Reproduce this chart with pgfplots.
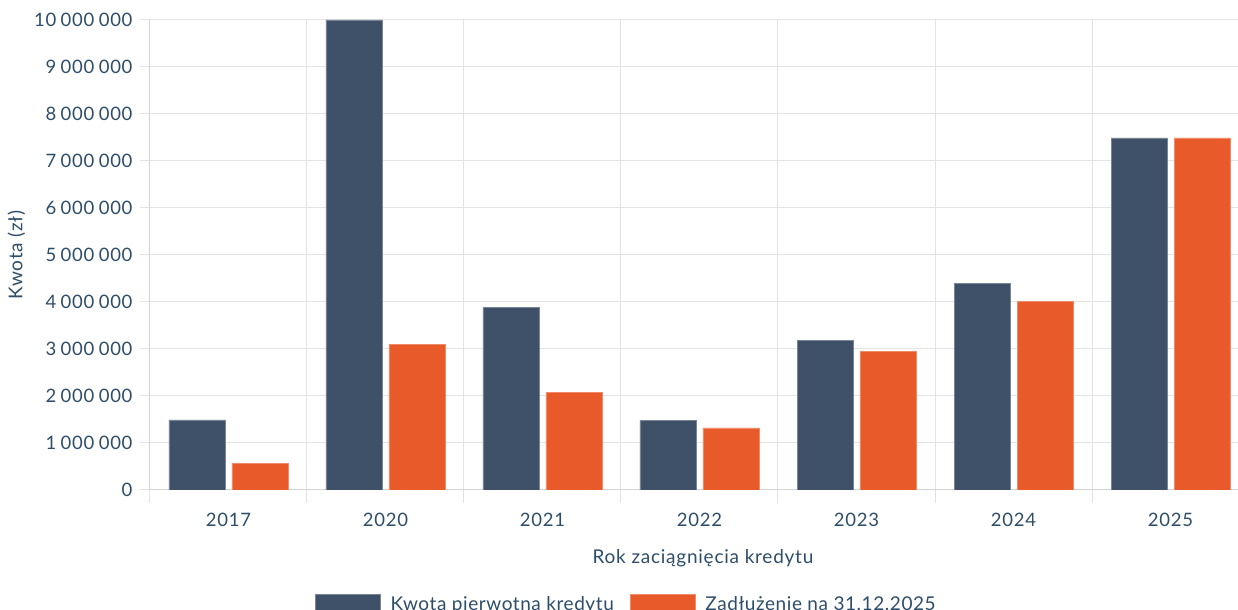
\documentclass[border=0pt]{standalone}
\usepackage{fontspec}
\setmainfont{Lato}[LetterSpace=4]
\usepackage{pgfplots}
\pgfplotsset{compat=1.18}
\definecolor{cdark}{HTML}{3F5069}
\definecolor{corange}{HTML}{E85A29}
\definecolor{ctext}{HTML}{2E4D69}
\definecolor{cgrid}{HTML}{E3E3E3}
\begin{document}
\begin{tikzpicture}
\begin{axis}[
  name=ax,
  scale only axis,
  width=1088pt, height=470pt,
  xmin=-0.5, xmax=6.43,
  ymin=0, ymax=10000000,
  ybar=7pt, bar width=56pt,
  axis x line*=bottom, axis y line*=left,
  axis line style={draw=cgrid!85!gray, line width=1pt},
  xtick={0,1,2,3,4,5,6},
  xticklabels={2017,2020,2021,2022,2023,2024,2025},
  minor xtick={-0.5,0.5,1.5,2.5,3.5,4.5,5.5},
  xminorgrids, ymajorgrids,
  grid style={cgrid, line width=1pt},
  minor grid style={cgrid, line width=1pt},
  tick align=outside,
  x tick style={draw=none},
  minor x tick style={draw=cgrid, line width=1pt},
  minor tick length=13pt,
  y tick style={draw=cgrid, line width=1pt},
  major tick length=10pt,
  ytick={0,1000000,...,10000000},
  scaled y ticks=false,
  /pgf/number format/.cd, fixed, precision=0, 1000 sep={\kern0.24em}, assume math mode=true,
  /pgfplots/.cd,
  tick label style={font=\fontsize{18.5}{21}\selectfont, text=ctext},
  xticklabel style={yshift=-10pt},
  yticklabel style={xshift=-4pt},
  xlabel={Rok zaciągnięcia kredytu},
  ylabel={Kwota (zł)},
  label style={font=\fontsize{19}{22}\selectfont, text=ctext},
  xlabel style={yshift=-16pt, xshift=9pt},
  ylabel style={yshift=2pt},
  legend style={at={(0.437,-0.217)}, anchor=north, draw=none, legend columns=2,
    font=\fontsize{19}{22}\selectfont\addfontfeature{LetterSpace=3}, text=ctext,
    nodes={inner xsep=0pt},
    /tikz/every odd column/.append style={column sep=10pt},
    /tikz/every even column/.append style={column sep=16pt}},
  legend image code/.code={\fill[#1] (0pt,-10pt) rectangle (65pt,10pt);},
]
\addplot[fill=cdark, draw=cdark!70!white, line width=0.6pt] coordinates {
  (0,1490000) (1,10000000) (2,3880000) (3,1480000) (4,3180000) (5,4390000) (6,7490000)};
\addplot[fill=corange, draw=corange!70!white, line width=0.6pt] coordinates {
  (0,570000) (1,3090000) (2,2070000) (3,1320000) (4,2940000) (5,4020000) (6,7490000)};
\legend{Kwota pierwotna kredytu, Zadłużenie na 31.12.2025}
\end{axis}
\pgfresetboundingbox
\path[use as bounding box] ([xshift=-150pt,yshift=-120pt]ax.south west) rectangle ([yshift=20pt]ax.north east);
\end{tikzpicture}
\end{document}
